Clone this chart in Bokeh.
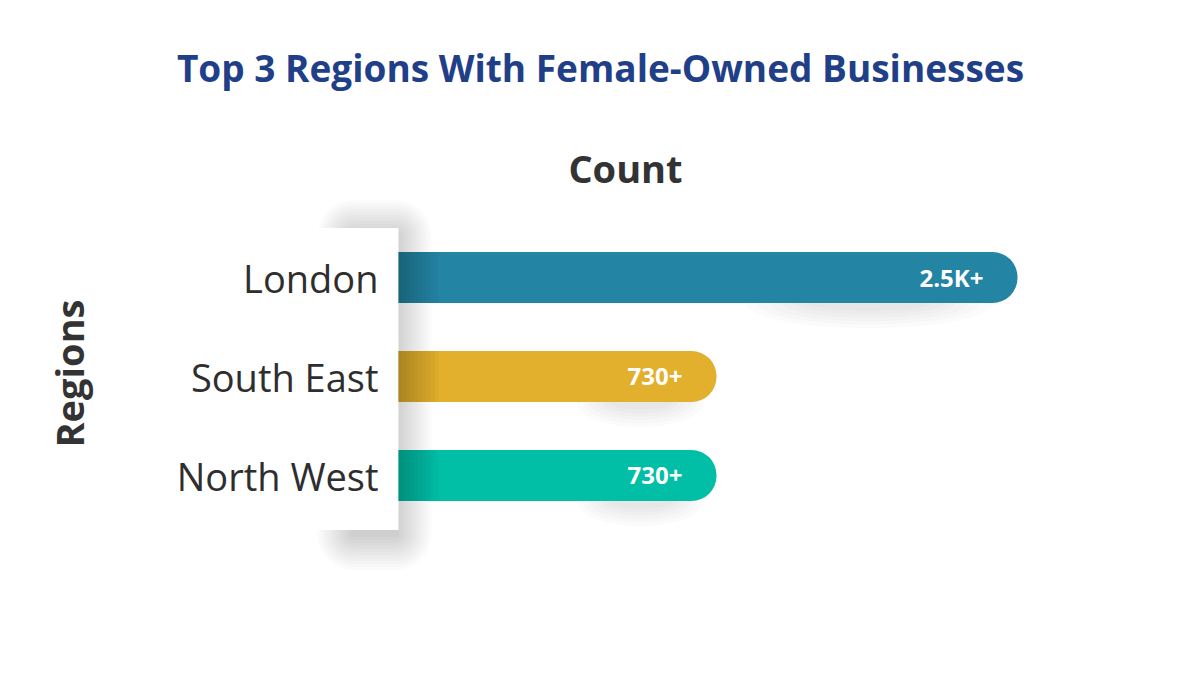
from bokeh.plotting import figure
from bokeh.models import Range1d, Label, ColumnDataSource
from bokeh.core.properties import value
from bokeh.embed import file_html
from bokeh.resources import INLINE

# ---- data ----
regions = ["London", "South East", "North West"]
counts = [2500, 730, 730]
count_labels = ["2.5K+", "730+", "730+"]
colors = ["#2384A3", "#E2B02C", "#00BFA6"]
title_text = "Top 3 Regions With Female-Owned Businesses"
x_title = "Count"
y_title = "Regions"
BASE = -1140  # value at which the bars start

# ---- geometry of the scales ----
W, H = 1184, 659
SX = 301 / 1770.0          # px per count unit
SY = 99.0                  # px per category step
X0 = BASE - 398 / SX
X1 = X0 + W / SX
YT = 2 + 277 / SY
YB = YT - H / SY

def dx(px):
    return px / SX

def dy(px):
    return px / SY

def px2x(px):
    return X0 + px / SX

def px2y(py):
    return YT - py / SY

n = len(regions)
ys = [n - 1 - i for i in range(n)]

p = figure(width=W, height=H, output_backend="svg", toolbar_location=None,
           x_range=Range1d(X0, X1), y_range=Range1d(YB, YT),
           x_axis_type=None, y_axis_type=None, min_border=0,
           background_fill_color="white", border_fill_color="white")
p.grid.visible = False
p.outline_line_color = None

FONT = "Open Sans"

# ---- panel shadow ----
for k in range(1, 13):
    pad = k * 3
    p.quad(left=BASE - dx(45) - dx(pad), right=BASE + dx(pad) - dx(3),
           top=(n - 0.5) + dy(pad) - dy(8), bottom=-0.55 - dy(pad) - dy(4),
           fill_color="black", fill_alpha=0.016, line_color=None,
           border_radius=pad)

# ---- shadows under the bars ----
for i, (c, y) in enumerate(zip(counts, ys)):
    length = c - BASE
    cx = c - length * 0.24
    wpx = length * SX * 0.36
    for k in range(1, 7):
        p.ellipse(x=cx, y=y - 0.26, width=dx(wpx * (0.45 + 0.11 * k)),
                  height=dy(8 + 7 * k), fill_color="black", fill_alpha=0.016,
                  line_color=None)

# ---- white label panel ----
p.quad(left=BASE - dx(260), right=BASE, top=n - 0.5, bottom=-0.55,
       fill_color="white", line_color=None)

# ---- bars ----
src = ColumnDataSource(dict(y=ys, right=counts, color=colors,
                            label=count_labels, region=regions))
p.hbar(y="y", left=BASE, right="right", height=0.515, fill_color="color",
       line_color=None, border_radius=(0, 25, 25, 0), source=src)

# dark gradient at the bars' left edge
for wpx in range(4, 44, 4):
    p.hbar(y="y", left=BASE, right=BASE + dx(wpx), height=0.515,
           fill_color="black", fill_alpha=0.022, line_color=None, source=src)

# ---- value labels ----
p.text(x="right", y="y", text="label", source=src, x_offset=-34,
       text_align="right", text_baseline="middle", text_color="white",
       text_font=value(FONT), text_font_style="bold",
       text_font_size="24px")

# ---- category labels ----
p.text(x=BASE, y="y", text="region", source=src, x_offset=-20,
       text_align="right", text_baseline="middle", text_color="#2E2E2E",
       text_font=value(FONT), text_font_size="38px")

# ---- titles ----
p.add_layout(Label(x=px2x(600), y=px2y(67), text=title_text,
                   text_align="center", text_baseline="middle",
                   text_color="#1F4088", text_font=FONT,
                   text_font_style="bold", text_font_size="37px"))
p.add_layout(Label(x=px2x(625), y=px2y(167), text=x_title,
                   text_align="center", text_baseline="middle",
                   text_color="#333333", text_font=FONT,
                   text_font_style="bold", text_font_size="38px"))
p.add_layout(Label(x=px2x(68), y=px2y(373), text=y_title, angle=1.5707963,
                   text_align="center", text_baseline="middle",
                   text_color="#333333", text_font=FONT,
                   text_font_style="bold", text_font_size="38px"))

open("out.html", "w").write(file_html(p, INLINE))
